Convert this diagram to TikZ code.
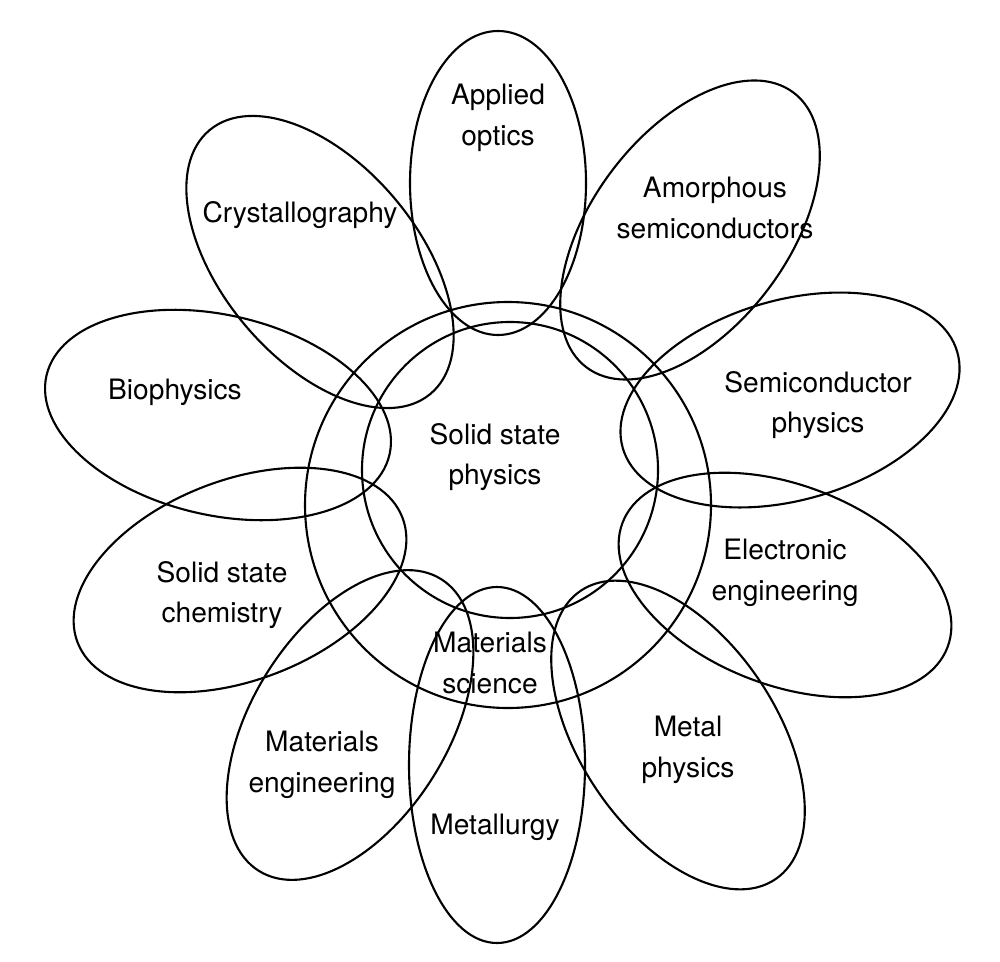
\documentclass[tikz,border=0pt]{standalone}
\usepackage{fontspec}
\setmainfont{TeX Gyre Heros}
\begin{document}
\begin{tikzpicture}[line width=0.6pt,
  lbl/.style={align=center,font=\fontsize{8}{11.5}\selectfont}]
\useasboundingbox (0,0) rectangle (10,9.61);
\foreach \x/\y/\t/\a/\b in {4.98/7.78/90/1.52/0.88, 6.90/7.31/53/1.72/0.98, 7.90/5.61/16/1.74/1.0,
  7.85/3.76/-21/1.74/1.0, 6.78/2.26/-56/1.74/0.98, 4.97/1.96/-90/1.78/0.88, 3.50/2.36/-122/1.72/0.98,
  2.40/3.81/-159/1.74/1.0, 2.18/5.46/167/1.76/1.0, 3.20/6.99/130/1.72/0.98}
  \draw[rotate around={\t:(\x,\y)}] (\x,\y) ellipse (\a cm and \b cm);
\draw (5.08,4.56) circle (2.03);
\draw (5.10,4.91) circle (1.48);
\node[lbl] (ao) at (4.98,8.43) {Applied\\optics};
\node[lbl] (am) at (7.15,7.53) {Amorphous\\semiconductors};
\node[lbl] (cr) at (3.00,7.46) {Crystallography};
\node[lbl] (bi) at (1.75,5.69) {Biophysics};
\node[lbl] (sp) at (8.18,5.56) {Semiconductor\\physics};
\node[lbl] (ss) at (4.95,5.04) {Solid state\\physics};
\node[lbl] (ee) at (7.85,3.88) {Electronic\\engineering};
\node[lbl] (sc) at (2.22,3.66) {Solid state\\chemistry};
\node[lbl] (ms) at (4.90,2.98) {Materials\\science};
\node[lbl] (mp) at (6.88,2.11) {Metal\\physics};
\node[lbl] (me) at (3.22,1.96) {Materials\\engineering};
\node[lbl] (mt) at (4.95,1.34) {Metallurgy};
\end{tikzpicture}
\end{document}
